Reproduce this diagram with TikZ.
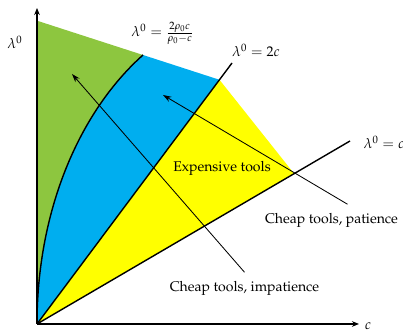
\documentclass[tikz,border=0pt]{standalone}
\usepackage[T1]{fontenc}
\usepackage{mathpazo}
\usepackage{xcolor}
\usepackage{amsmath,amssymb}
\usepackage{tikz}
\usetikzlibrary{positioning, arrows.meta, calc}

\definecolor{regiongreen}{RGB}{141,198,63}
\definecolor{regionblue}{RGB}{0,174,239}
\definecolor{regionyellow}{RGB}{255,255,0}

\begin{document}
\begin{tikzpicture}[
  x=0.025cm, y=0.025cm,
  font=\normalsize,
  axis/.style={-{Stealth[length=5pt,width=4pt]}, line width=1.1pt},
  border/.style={line width=1pt},
  arrow/.style={-{Stealth[length=6pt,width=4pt]}, line width=0.6pt},
  lbl/.style={inner sep=1pt},
]
  \useasboundingbox (-37,-9) rectangle (366,324);

  % corner points of the regions
  \coordinate (O)     at (0,0);
  \coordinate (topL)  at (0,303.3);
  \coordinate (curvT) at (106,269);
  \coordinate (vtx)   at (182.5,244.2);
  \coordinate (vtxC)  at (257,150.5);
  \coordinate (endA)  at (195,261);
  \coordinate (endB)  at (313,183);

  % coloured regions
  \fill[regiongreen]  (O) -- (topL) -- (curvT) .. controls (40,210) and (0,110) .. (O);
  \fill[regionblue]   (O) .. controls (0,110) and (40,210) .. (curvT) -- (vtx) -- cycle;
  \fill[regionyellow] (O) -- (vtx) -- (vtxC) -- cycle;

  % boundaries
  \draw[border] (O) .. controls (0,110) and (40,210) .. (curvT);
  \draw[border] (O) -- (endA);
  \draw[border] (O) -- (endB);

  % axes
  \coordinate (xend) at (322,0);
  \coordinate (yend) at (0,316);
  \draw[axis] (O) -- (xend);
  \draw[axis] (O) -- (yend);

  \node[lbl] (xlab) at (331,-2) {$c$};
  \node[lbl] (ylab) at (-22,282) {$\lambda^0$};

  \node[lbl] (curvlab) at (125.5,291) {$\lambda^0 = \frac{2\rho_0 c}{\rho_0 - c}$};
  \node[lbl] (twoclab) at (219,274) {$\lambda^0 = 2c$};
  \node[lbl, anchor=west] (clab) at (325,182) {$\lambda^0 = c$};

  \node[lbl] (exp) at (185,156) {Expensive tools};
  \node[lbl] (pat) at (294.5,104) {Cheap tools, patience};
  \node[lbl] (imp) at (207.5,36)  {Cheap tools, impatience};

  % pointers into the regions
  \coordinate (impTip) at (35,250);
  \coordinate (patTip) at (126,229);
  \draw[arrow] ($(imp.north)+(0,7)$) -- (impTip);
  \draw[arrow] ($(pat.north)+(16,7)$) -- (patTip);
\end{tikzpicture}
\end{document}
